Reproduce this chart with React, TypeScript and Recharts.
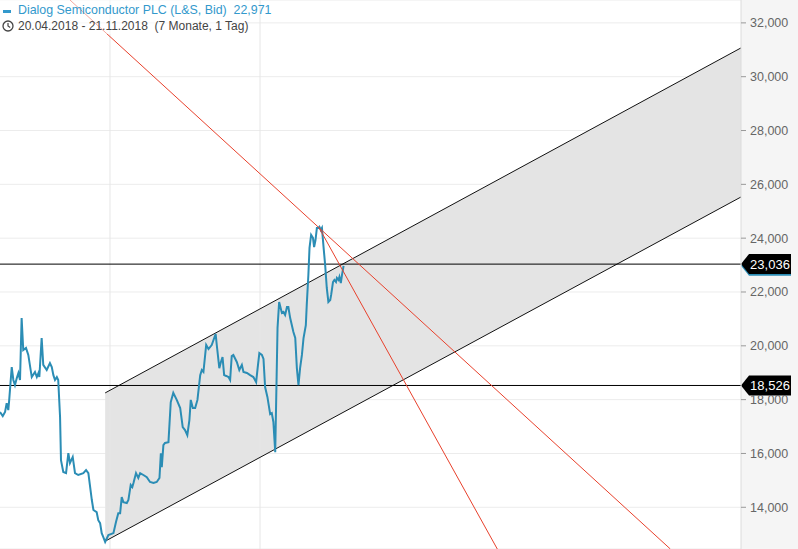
import React from 'react';
import {
  ComposedChart,
  Line,
  Area,
  XAxis,
  YAxis,
  CartesianGrid,
  ReferenceLine,
} from 'recharts';

// trading-day index since 20.04.2018
const priceDays = [
  0, 1.2, 2.2, 2.9, 3.6, 4.0, 5.1, 5.8, 6.5, 7.3, 8.0, 8.7, 9.4, 10.1, 11.3, 12.3, 13.8, 15.2, 16.0, 16.7,
  17.1, 18.1, 18.8, 20.3, 21.7, 22.5, 23.2, 23.9, 24.7, 25.3, 26.1, 26.5, 27.5, 28.7, 29.7, 30.4, 31.6, 32.6,
  34.0, 36.2, 37.4, 38.4, 39.9, 40.6, 42.0, 42.7, 43.5, 44.2, 44.9, 45.7, 47.1, 49.3, 50.4, 51.4, 52.2, 52.9,
  53.6, 55.1, 55.8, 56.8, 57.5, 58.0, 59.1, 60.1, 60.9, 62.3, 63.8, 65.2, 66.7, 68.1, 69.3, 69.9, 70.3, 71.0,
  71.7, 73.2, 74.2, 75.3, 76.8, 78.3, 79.4, 80.4, 81.4, 82.3, 82.9, 83.8, 84.8, 85.8, 87.0, 87.7, 88.4, 89.6,
  90.6, 92.0, 93.7, 94.2, 95.3, 96.0, 96.7, 97.4, 98.3, 99.3, 100.0, 100.7, 101.4, 102.9, 104.0, 105.1, 105.8,
  107.3, 108.7, 110.1, 111.3, 112.0, 112.7, 113.8, 114.5, 115.2, 116.2, 117.4, 118.1, 118.8, 119.6, 120.6,
  121.3, 122.5, 123.2, 123.9, 124.7, 125.3, 126.1, 127.5, 128.3, 129.0, 129.7, 130.4, 131.2, 131.9, 132.9,
  133.3, 134.0, 134.5, 135.2, 136.0, 136.5, 137.1, 137.7, 138.4, 138.8, 139.4, 139.9, 140.6, 141.3, 142.0,
  142.7, 143.5, 143.9, 144.7, 145.3, 146.0, 146.4, 147.1, 147.5, 148.1, 148.6, 149.0, 149.3,
];

const priceValues = [
  17540, 17390, 17540, 17870, 17610, 17990, 19210, 18730, 18540, 18800, 18990, 18730, 21030, 19840, 19920, 19660,
  18840, 19030, 18840, 18990, 18840, 20290, 19290, 19100, 19360, 19210, 18910, 18730, 18840, 18730, 17350, 15750,
  15310, 15270, 16010, 15640, 15870, 15270, 15200, 15270, 15380, 15270, 14270, 13900, 13820, 13520, 13410, 13040,
  12890, 12710, 12970, 13040, 13450, 13780, 13780, 14380, 14190, 14160, 14270, 14830, 14750, 14900, 15270, 15090,
  15270, 15200, 15120, 14940, 14900, 14940, 15090, 16010, 15490, 16310, 16390, 16420, 17910, 18250, 17990, 17690,
  16980, 16870, 16680, 17240, 17990, 17690, 17690, 17990, 18910, 19100, 19030, 20030, 19880, 20030, 20440, 20030,
  19170, 19400, 19580, 18910, 18880, 18840, 18730, 19620, 19660, 19400, 19100, 19290, 19030, 18990, 18910, 18840,
  18650, 19210, 19730, 19660, 19510, 18470, 18100, 17460, 17500, 17170, 16050, 20660, 21630, 21220, 21260, 21150,
  21440, 21440, 21030, 20510, 20290, 19170, 18540, 19170, 19660, 20290, 20770, 21520, 22630, 23640, 24120, 24010,
  23670, 23930, 24380, 24380, 24420, 24300, 24380, 23670, 23000, 22150, 21630, 21700, 21890, 22370, 22450, 22370,
  22520, 22450, 22560, 22330, 22630, 22820, 22971,
];

const priceData = priceDays.map((d, i) => ({ d, v: priceValues[i] }));

// trend channel (start / end)
const channelDays = [45.7, 322];
const channelLow = [12740, 25530];
const channelHigh = [18250, 31070];
const channelData = channelDays.map((d, i) => ({
  d,
  lo: channelLow[i],
  hi: channelHigh[i],
  band: [channelLow[i], channelHigh[i]],
}));

// red resistance lines
const red1Days = [30.4, 291.3];
const red1Values = [32850, 12450];
const red2Days = [138.7, 216.1];
const red2Values = [24380, 12450];
const red1Data = red1Days.map((d, i) => ({ d, v: red1Values[i] }));
const red2Data = red2Days.map((d, i) => ({ d, v: red2Values[i] }));

const yTicks = [14000, 16000, 18000, 20000, 22000, 24000, 26000, 28000, 30000, 32000];
const gridDays = [47.8, 113];
const level1 = 23036;
const level2 = 18526;
const lastPrice = 22971;

const BLUE = '#2b8db5';
const RED = '#e8412c';
const FONT = '"Liberation Sans", Arial, sans-serif';

const fmt = (n: number) => n.toLocaleString('en-US');

const Tag = ({ viewBox, text, color, dy = 0 }: any) => {
  if (!viewBox) return null;
  const x = viewBox.x + viewBox.width;
  const y = viewBox.y + dy;
  const h = 10;
  const pts = `${x},${y} ${x + 8},${y - h} ${x + 50},${y - h} ${x + 50},${y + h} ${x + 8},${y + h}`;
  return (
    <g>
      <polygon points={pts} fill={color} />
      {text ? (
        <text
          x={x + 29}
          y={y + 4.5}
          textAnchor="middle"
          fill="#fff"
          fontSize={13}
          fontFamily={FONT}
        >
          {text}
        </text>
      ) : null}
    </g>
  );
};

const Clock = () => (
  <svg width={12} height={12} style={{ position: 'absolute', left: 2, top: 20 }}>
    <circle cx={6} cy={6} r={5} fill="none" stroke="#444" strokeWidth={1.3} />
    <path d="M6 3 V6 L8.2 7.6" fill="none" stroke="#444" strokeWidth={1.2} />
  </svg>
);

export default function App() {
  return (
    <div style={{ position: 'absolute', left: 0, top: 0, width: 798, height: 549, background: '#fff' }}>
      <div
        style={{
          position: 'absolute',
          left: 741,
          top: 0,
          width: 57,
          height: 549,
          background: '#f5f5f5',
        }}
      />
      <ComposedChart
        width={798}
        height={549}
        margin={{ top: 0, right: 0, bottom: 0, left: 0 }}
        style={{ position: 'absolute', left: 0, top: 0 }}
      >
        <CartesianGrid stroke="#ececec" vertical={false} />
        <XAxis
          type="number"
          dataKey="d"
          domain={[0, 322]}
          allowDataOverflow
          hide
        />
        <YAxis
          orientation="right"
          width={57}
          domain={[12450, 32850]}
          allowDataOverflow
          ticks={yTicks}
          tickFormatter={fmt}
          tick={{ fill: '#666', fontSize: 12.5, fontFamily: FONT }}
          tickSize={5}
          tickMargin={4}
          tickLine={{ stroke: '#999' }}
          axisLine={{ stroke: '#dcdcdc' }}
        />
        {gridDays.map((g) => (
          <ReferenceLine key={g} x={g} stroke="#e6e6e6" />
        ))}
        <Area
          data={channelData}
          dataKey="band"
          type="linear"
          fill="#e4e4e4"
          fillOpacity={1}
          stroke="none"
          isAnimationActive={false}
        />
        <Line data={channelData} dataKey="hi" type="linear" stroke="#111" strokeWidth={1} dot={false} isAnimationActive={false} />
        <Line data={channelData} dataKey="lo" type="linear" stroke="#111" strokeWidth={1} dot={false} isAnimationActive={false} />
        <ReferenceLine
          y={lastPrice}
          stroke="none"
          label={(p: any) => <Tag viewBox={p.viewBox} color={BLUE} dy={0} />}
        />
        <ReferenceLine
          y={level1}
          stroke="#000"
          label={(p: any) => <Tag viewBox={p.viewBox} color="#000" text={fmt(level1)} />}
        />
        <ReferenceLine
          y={level2}
          stroke="#000"
          label={(p: any) => <Tag viewBox={p.viewBox} color="#000" text={fmt(level2)} />}
        />
        <Line data={priceData} dataKey="v" type="linear" stroke={BLUE} strokeWidth={2} dot={false} isAnimationActive={false} />
        <Line data={red1Data} dataKey="v" type="linear" stroke={RED} strokeWidth={1} dot={false} isAnimationActive={false} />
        <Line data={red2Data} dataKey="v" type="linear" stroke={RED} strokeWidth={1} dot={false} isAnimationActive={false} />
      </ComposedChart>
      <div
        style={{
          position: 'absolute',
          left: 0,
          top: 0,
          width: 245,
          height: 34,
          fontFamily: FONT,
          fontSize: 12,
          background: 'rgba(255,255,255,0.55)',
        }}
      >
        <div style={{ position: 'absolute', left: 3, top: 10, width: 8, height: 3, background: '#3399cc' }} />
        <div style={{ position: 'absolute', left: 18, top: 3, color: '#3399cc', whiteSpace: 'pre', fontSize: 12.4 }}>
          {'Dialog Semiconductor PLC (L&S, Bid)  ' + fmt(lastPrice)}
        </div>
        <Clock />
        <div style={{ position: 'absolute', left: 18, top: 19, color: '#444', whiteSpace: 'pre' }}>
          {'20.04.2018 - 21.11.2018  (7 Monate, 1 Tag)'}
        </div>
      </div>
    </div>
  );
}
